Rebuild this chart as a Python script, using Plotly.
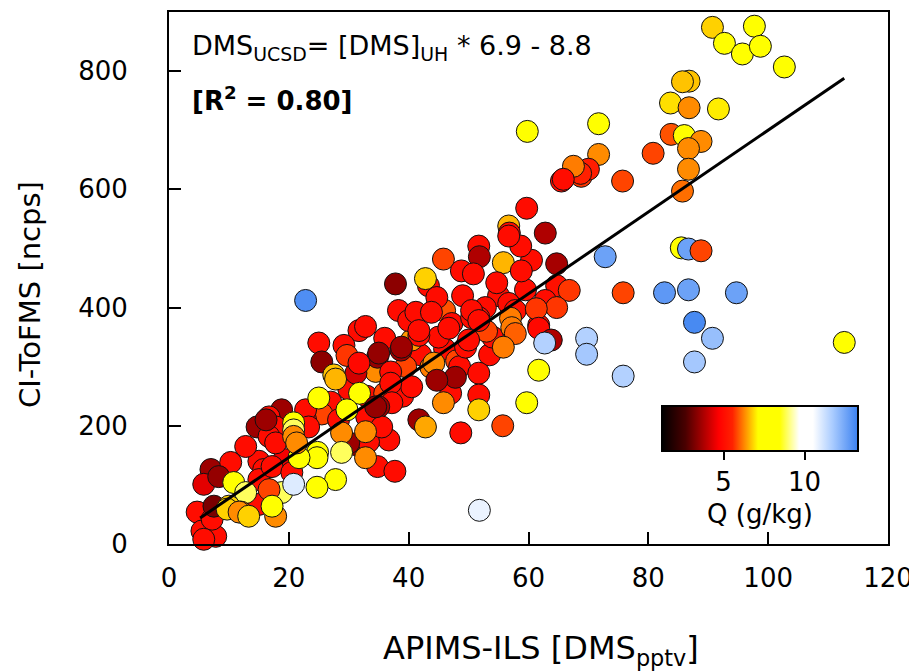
import plotly.graph_objects as go

# APIMS-ILS DMS (pptv)
apims = [
    46.0, 48.0, 45.0, 42.0, 39.5, 48.5, 53.5, 54.0, 33.0, 36.0, 30.0, 27.0, 25.5, 33.0, 39.0, 47.0,
    53.0, 59.5, 55.0, 60.5, 46.0, 49.0, 36.0, 40.5,
    34.5, 18.8, 16.7, 14.7, 17.8, 22.8, 31.7, 29.2, 38.3, 40.0, 43.3, 41.2, 7.0, 15.0, 19.2, 10.3, 15.8,
    65.5, 68.8, 59.7, 56.7, 56.8, 62.8, 58.7, 51.7, 51.8, 45.8, 48.8, 50.8, 55.8, 58.8, 64.7, 54.7,
    64.7, 66.8, 62.8, 64.7, 52.8, 56.7, 57.8, 51.7, 47.2, 50.5, 61.7, 56.7, 61.3, 57.0, 57.2, 57.8,
    55.8, 61.7, 37.8, 42.8, 32.8, 44.7, 43.8, 41.7, 46.7, 25.0, 29.7, 25.5, 34.8, 38.7, 37.0, 27.5,
    31.2, 43.7, 49.5, 50.5, 27.8, 31.7,
    35.0, 38.8, 41.7, 51.7, 50.0, 44.2, 47.8, 44.7, 51.7, 51.7, 40.5, 37.0, 37.2, 41.7, 42.8, 45.8,
    36.7, 35.0,
    16.7, 16.2, 12.8, 31.2, 33.3, 22.8, 23.3, 5.8, 4.7, 5.5, 7.8, 7.2, 15.0, 30.0, 34.8, 37.7, 35.5,
    28.3, 8.3, 17.2, 20.5, 17.8, 7.5, 5.8, 15.0,
    25.0, 31.8, 29.7, 34.5, 20.8, 20.8, 20.8, 28.8, 28.8, 24.8, 10.8, 12.8, 12.0, 17.8, 18.8, 16.7,
    10.0, 24.7, 27.8, 24.7, 32.8, 32.8, 20.8, 21.7, 21.3, 9.7, 11.7, 13.3, 17.2,
    90.7, 97.7, 92.7, 95.7, 98.7, 102.7, 86.8, 85.7, 83.7, 86.8, 91.7, 71.7, 83.8, 86.0, 88.8, 86.7,
    71.7, 80.8, 86.7, 85.7, 75.7, 70.0, 68.7, 67.5, 65.8, 59.8,
    85.5, 86.7, 88.8, 82.7, 86.7, 94.7, 87.7, 90.7, 87.7, 112.7, 72.8, 75.8, 69.7, 69.7, 75.8,
    63.8, 62.7, 61.7, 59.7, 55.7, 48.7, 51.7, 51.8, 22.8,
]

# CI-ToFMS DMS (ncps)
citofms = [
    330, 310, 350, 320, 300, 300, 320, 350, 250, 255, 262, 240, 220, 215, 250, 255,
    360, 430, 420, 480, 395, 420, 348, 345,
    292, 227, 215, 198, 198, 210, 361, 336, 395, 378, 437, 392, 126, 140, 143, 138, 126,
    614, 622, 568, 538, 526, 526, 504, 504, 486, 482, 462, 457, 476, 462, 474, 442,
    437, 429, 412, 400, 400, 407, 395, 383, 373, 383, 370, 521, 398, 382, 366, 356,
    333, 365, 440, 449, 368, 417, 392, 353, 365, 340, 319, 308, 316, 328, 291, 286,
    289, 299, 333, 395, 279, 306,
    323, 333, 361, 378, 345, 306, 282, 277, 289, 252, 266, 272, 239, 210, 198, 239,
    176, 232,
    182, 210, 165, 168, 173, 227, 198, 101, 54, 22, 13, 42, 109, 171, 131, 123, 198,
    210, 114, 131, 121, 171, 64, 8, 67,
    247, 255, 227, 232, 205, 193, 182, 188, 155, 155, 104, 87, 54, 47, 87, 92,
    64, 146, 109, 96, 146, 190, 101, 146, 171, 59, 54, 47, 64,
    874, 876, 847, 829, 842, 807, 783, 782, 746, 738, 736, 711, 693, 691, 681, 669,
    659, 661, 634, 597, 614, 634, 627, 639, 617, 698,
    501, 499, 496, 425, 430, 425, 375, 348, 308, 341, 486, 425, 348, 321, 284,
    345, 340, 294, 239, 200, 188, 227, 57, 412,
]

# Specific humidity Q (g/kg)
q_values = [
    5.0, 5.8, 5.0, 5.0, 5.8, 5.0, 5.0, 5.0, 5.0, 5.8, 5.0, 5.0, 5.8, 5.0, 5.0, 5.0,
    5.8, 5.0, 5.0, 5.0, 5.9, 5.0, 5.0, 6.4,
    6.3, 3.6, 5.0, 3.6, 5.0, 5.0, 5.0, 5.0, 5.0, 5.0, 5.0, 5.0, 3.6, 5.0, 4.6, 5.0, 5.0,
    5.0, 5.7, 5.0, 6.6, 5.0, 3.8, 5.0, 5.0, 3.8, 5.8, 5.0, 5.0, 6.6, 5.0, 3.7, 5.0,
    5.1, 5.7, 5.0, 5.7, 5.0, 5.0, 5.1, 5.0, 4.9, 5.0, 5.0, 5.0, 5.7, 6.2, 6.2, 6.0,
    6.2, 4.9, 3.4, 6.8, 5.0, 5.0, 5.0, 5.0, 5.0, 5.0, 5.7, 3.4, 3.5, 3.6, 5.0, 6.7,
    4.2, 6.2, 5.0, 5.0, 6.6, 4.9,
    3.5, 3.6, 5.0, 5.0, 5.0, 6.3, 3.6, 3.6, 5.0, 5.0, 5.0, 5.0, 5.0, 3.6, 6.5, 6.3,
    5.0, 3.6,
    5.0, 3.6, 5.0, 3.6, 5.0, 5.0, 5.0, 4.4, 5.0, 5.0, 5.0, 5.0, 5.0, 3.6, 5.0, 5.0, 5.0,
    5.0, 3.5, 5.0, 5.0, 5.0, 3.2, 5.0, 5.0,
    7.8, 7.8, 7.7, 3.5, 7.8, 8.9, 6.3, 6.3, 8.9, 7.8, 7.8, 8.9, 6.3, 6.3, 8.9, 5.8,
    6.8, 7.8, 7.8, 7.8, 6.3, 6.3, 11.0, 7.8, 6.3, 6.8, 6.3, 6.8, 7.8,
    6.8, 7.6, 7.8, 7.8, 7.7, 7.9, 6.7, 6.7, 6.9, 6.3, 7.0, 7.9, 5.9, 7.9, 6.3, 6.3,
    6.3, 5.8, 6.3, 6.1, 5.8, 5.4, 5.5, 6.2, 5.0, 7.9,
    7.9, 12.6, 5.8, 12.8, 12.6, 12.6, 13.1, 12.0, 11.8, 7.8, 12.6, 5.8, 11.6, 11.8, 11.6,
    3.8, 11.6, 7.6, 7.8, 5.8, 5.0, 6.8, 10.8, 13.0,
]

# fitted line end points as drawn
fit_x = [5.2, 112.7]
fit_y = [44, 788]

x_ticks = [0, 20, 40, 60, 80, 100, 120]
y_ticks = [0, 200, 400, 600, 800]
cbar_ticks = [5, 10]

colorscale = [
    [0.0, '#000000'], [0.12, '#4a0000'], [0.29, '#ff0000'], [0.36, '#ff2200'],
    [0.42, '#ff8800'], [0.49, '#ffff00'], [0.60, '#ffff00'], [0.70, '#ffffff'],
    [0.77, '#ffffff'], [0.87, '#aaccff'], [1.0, '#3a80f0'],
]

FONT = 'DejaVu Sans, Liberation Sans, Arial, sans-serif'

fig = go.Figure()
fig.add_trace(go.Scatter(
    x=apims, y=citofms, mode='markers', cliponaxis=False,
    marker=dict(
        size=22, color=q_values, colorscale=colorscale, cmin=1.2, cmax=13.3,
        line=dict(width=1, color='#111111'),
        showscale=True,
        colorbar=dict(
            orientation='h', x=0.822, xanchor='center', y=0.260, yanchor='top',
            len=196, lenmode='pixels', thickness=45, thicknessmode='pixels',
            outlinewidth=2, outlinecolor='black', xpad=0, ypad=0,
            tickvals=cbar_ticks, ticks='outside', ticklen=8, tickwidth=2, tickcolor='black',
            tickfont=dict(size=26, color='black', family=FONT),
            title=dict(text='Q (g/kg)', side='bottom', font=dict(size=26, color='black', family=FONT)),
        ),
    ),
    hoverinfo='skip',
))
fig.add_trace(go.Scatter(x=fit_x, y=fit_y, mode='lines', line=dict(color='black', width=3),
                         hoverinfo='skip'))

axis_common = dict(
    showgrid=False, zeroline=False, showline=True, linewidth=2, linecolor='black',
    mirror=True, ticks='inside', ticklen=12, tickwidth=2, tickcolor='black',
    tickfont=dict(size=26, color='black', family=FONT),
)
fig.update_xaxes(range=[0, 120], tickvals=x_ticks, ticklabelstandoff=10, **axis_common)
fig.update_yaxes(range=[0, 900], tickvals=y_ticks, ticklabelstandoff=34, **axis_common)

# axis titles
fig.add_annotation(xref='paper', yref='paper', x=0.517, y=-0.1985, xanchor='center', yanchor='middle',
                   text='APIMS-ILS [DMS<sub>pptv</sub>]', showarrow=False,
                   font=dict(size=32, color='black', family=FONT))
fig.add_annotation(xref='paper', yref='paper', x=-0.1933, y=0.468, xanchor='center', yanchor='middle',
                   text='CI-ToFMS [ncps]', textangle=-90, showarrow=False,
                   font=dict(size=29, color='black', family=FONT))

# fit equation
fig.add_annotation(xref='paper', yref='paper', x=0.029, y=0.934, xanchor='left', yanchor='middle',
                   text='DMS<sub>UCSD</sub>= [DMS]<sub>UH</sub> * 6.9 - 8.8', showarrow=False,
                   font=dict(size=27, color='black', family=FONT))
fig.add_annotation(xref='paper', yref='paper', x=0.029, y=0.837, xanchor='left', yanchor='middle',
                   text='<b>[R<sup>2</sup> = 0.80]</b>', showarrow=False,
                   font=dict(size=26, color='black', family=FONT))

fig.update_layout(
    width=917, height=672, margin=dict(l=161, r=37, t=2, b=136),
    plot_bgcolor='white', paper_bgcolor='white', showlegend=False,
    font=dict(family=FONT, size=26, color='black'),
)

fig.write_html('out.html')
